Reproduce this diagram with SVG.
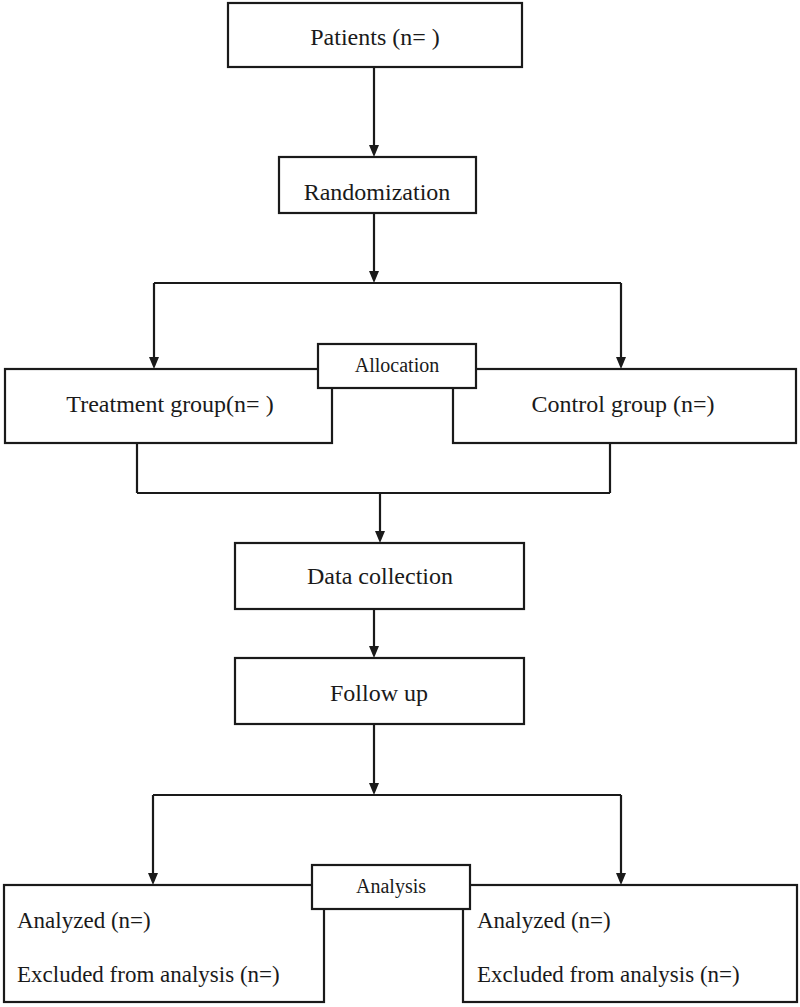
<svg xmlns="http://www.w3.org/2000/svg" width="800" height="1007" viewBox="0 0 800 1007">
<defs>
<style>
.box{fill:#fff;stroke:#1a1a1a;stroke-width:2.2}
.t{font-family:"Liberation Serif","Times New Roman",serif;font-size:24px;fill:#1a1a1a;text-anchor:middle}
.s{font-size:20px}
.l{text-anchor:start;font-size:23px}
.c{fill:none;stroke:#1a1a1a;stroke-width:2.2}
.h{fill:#1a1a1a}
</style>
</defs>
<rect width="800" height="1007" fill="#fff"/>
<g id="connectors">
<line class="c" x1="374" y1="67" x2="374" y2="147"/>
<line class="c" x1="374" y1="213" x2="374" y2="273"/>
<line class="c" x1="154" y1="283" x2="621" y2="283"/>
<line class="c" x1="154" y1="283" x2="154" y2="359"/>
<line class="c" x1="621" y1="283" x2="621" y2="359"/>
<line class="c" x1="137" y1="443" x2="137" y2="493"/>
<line class="c" x1="610" y1="443" x2="610" y2="493"/>
<line class="c" x1="137" y1="493" x2="610" y2="493"/>
<line class="c" x1="380" y1="493" x2="380" y2="533"/>
<line class="c" x1="374" y1="609" x2="374" y2="648"/>
<line class="c" x1="374" y1="724" x2="374" y2="785"/>
<line class="c" x1="153" y1="795" x2="621" y2="795"/>
<line class="c" x1="153" y1="795" x2="153" y2="875"/>
<line class="c" x1="621" y1="795" x2="621" y2="875"/>
<path class="h" d="M369,145 L379,145 L374,157 Z"/>
<path class="h" d="M369,271 L379,271 L374,283 Z"/>
<path class="h" d="M149,357 L159,357 L154,369 Z"/>
<path class="h" d="M616,357 L626,357 L621,369 Z"/>
<path class="h" d="M375,531 L385,531 L380,543 Z"/>
<path class="h" d="M369,646 L379,646 L374,658 Z"/>
<path class="h" d="M369,783 L379,783 L374,795 Z"/>
<path class="h" d="M148,873 L158,873 L153,885 Z"/>
<path class="h" d="M616,873 L626,873 L621,885 Z"/>
</g>
<g id="patients"><rect class="box" x="228" y="3" width="294" height="64"/><text class="t" x="375" y="45">Patients (n= )</text></g>
<g id="randomization"><rect class="box" x="279" y="157" width="197" height="56"/><text class="t" x="377" y="200">Randomization</text></g>
<g id="treatment"><rect class="box" x="5" y="369" width="327" height="74"/><text class="t" x="170" y="412">Treatment group(n= )</text></g>
<g id="control"><rect class="box" x="453" y="369" width="343" height="74"/><text class="t" x="623" y="412">Control group (n=)</text></g>
<g id="allocation"><rect class="box" x="318" y="344" width="158" height="44"/><text class="t s" x="397" y="372">Allocation</text></g>
<g id="data-collection"><rect class="box" x="235" y="543" width="289" height="66"/><text class="t" x="380" y="584">Data collection</text></g>
<g id="follow-up"><rect class="box" x="235" y="658" width="289" height="66"/><text class="t" x="379" y="701">Follow up</text></g>
<g id="analysis-left"><rect class="box" x="4" y="885" width="320" height="117"/><text class="t l" x="17" y="928">Analyzed (n=)</text><text class="t l" x="17" y="982">Excluded from analysis (n=)</text></g>
<g id="analysis-right"><rect class="box" x="463" y="885" width="334" height="117"/><text class="t l" x="477" y="928">Analyzed (n=)</text><text class="t l" x="477" y="982">Excluded from analysis (n=)</text></g>
<g id="analysis"><rect class="box" x="312" y="865" width="158" height="44"/><text class="t s" x="391" y="893">Analysis</text></g>
</svg>
